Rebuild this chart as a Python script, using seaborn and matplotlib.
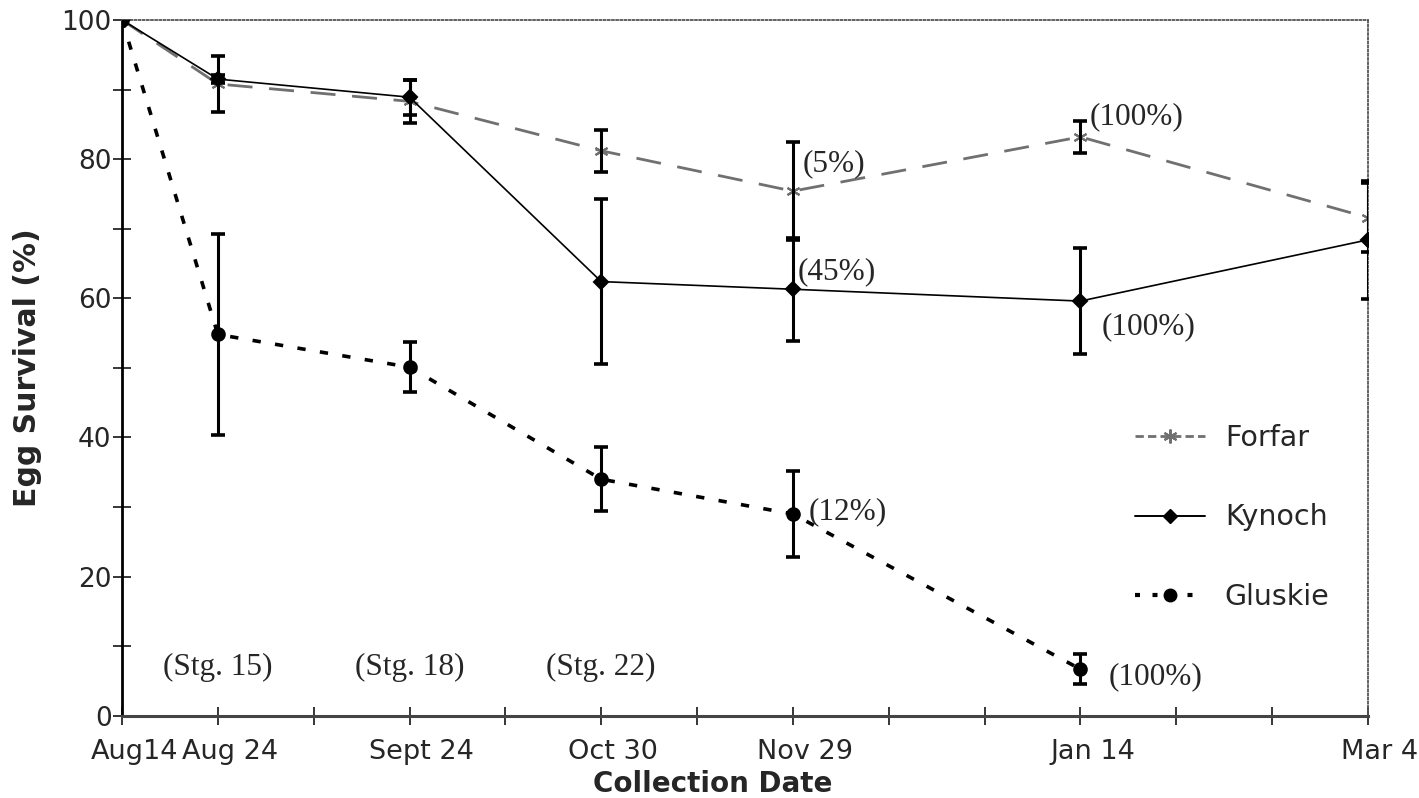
import numpy as np
import pandas as pd
import matplotlib
matplotlib.use("Agg")
import matplotlib.pyplot as plt
import matplotlib.transforms as mtransforms
from matplotlib.lines import Line2D
import seaborn as sns

# Collection dates and their positions on the sampling axis
dates = ["Aug14", "Aug 24", "Sept 24", "Oct 30", "Nov 29", "Jan 14", "Mar 4"]
date_pos = [0, 1, 3, 5, 7, 10, 13]

# Mean egg survival (%) and error (±) per site
forfar = [100, 90.8, 88.3, 81.2, 75.4, 83.2, 71.6]
forfar_err = [0, 4.0, 3.1, 3.0, 7.0, 2.3, 5.0]
kynoch = [100, 91.5, 88.9, 62.4, 61.3, 59.6, 68.4]
kynoch_err = [0, 0.6, 2.5, 11.8, 7.4, 7.6, 8.5]
gluskie = [100, 54.8, 50.1, 34.0, 29.0, 6.7]
gluskie_err = [0, 14.5, 3.6, 4.6, 6.2, 2.2]

# Embryo stage notes and proportion-hatched notes
stage_labels = ["(Stg. 15)", "(Stg. 18)", "(Stg. 22)"]
stage_pos = [1, 3, 5]
pct_notes = [  # (x, y, text)
    (7.1, 79.3, "(5%)"),
    (10.1, 86.1, "(100%)"),
    (7.05, 63.8, "(45%)"),
    (10.22, 55.9, "(100%)"),
    (7.16, 29.3, "(12%)"),
    (10.29, 5.6, "(100%)"),
]

sns.set_theme(style="white")
plt.rcParams["font.family"] = ["DejaVu Sans"]

fig = plt.figure(figsize=(14.19, 7.98), dpi=100)
ax = fig.add_axes([0.086, 0.103, 0.878, 0.872])

FORFAR_C = "#707070"
series = [
    ("Forfar", forfar, forfar_err, FORFAR_C, (0, (9, 6)), (6, 2, 0), 10, 2.0),
    ("Kynoch", kynoch, kynoch_err, "black", "-", "D", 7, 1.2),
    ("Gluskie", gluskie, gluskie_err, "black", (0, (2.3, 4.0)), "o", 9, 2.6),
]

for name, vals, errs, col, ls, mk, ms, lw in series:
    xs = date_pos[:len(vals)]
    sns.lineplot(x=xs, y=vals, color=col, linestyle=ls, marker=mk,
                 markersize=ms, markeredgecolor=col, markeredgewidth=1.5,
                 linewidth=lw, ax=ax, zorder=3, legend=False)
    xs2 = [x for x, e in zip(xs, errs) if e > 0]
    ys2 = [y for y, e in zip(vals, errs) if e > 0]
    es2 = [e for e in errs if e > 0]
    ax.errorbar(xs2, ys2, yerr=es2, fmt="none", ecolor="black",
                elinewidth=2.2, capsize=4.8, capthick=2.6, zorder=4)

ax.set_xlim(0, 13)
ax.set_ylim(0, 100)
ax.set_xticks(range(14))
xt_labels = [""] * 14
for p, d in zip(date_pos, dates):
    xt_labels[p] = d
ax.set_xticklabels(xt_labels, fontsize=19.5)
ax.set_yticks(range(0, 101, 10))
ax.set_yticklabels([str(v) if v % 20 == 0 else "" for v in range(0, 101, 10)],
                   fontsize=19)
ax.tick_params(axis="both", which="major", direction="inout", length=13,
               width=1.1, color="black", bottom=True, left=True)
ax.tick_params(axis="x", pad=10)
ax.tick_params(axis="y", pad=1)
shift = mtransforms.ScaledTranslation(12 / 100, 0, fig.dpi_scale_trans)
for lab in ax.get_xticklabels():
    lab.set_transform(lab.get_transform() + shift)

ax.set_xlabel("Collection Date", fontsize=20, fontweight="bold")
ax.xaxis.set_label_coords(0.474, -0.078)
ax.set_ylabel("Egg Survival (%)", fontsize=21.5, fontweight="bold")
ax.yaxis.set_label_coords(-0.064, 0.5)

for side in ["top", "right"]:
    ax.spines[side].set_linestyle((0, (1, 1.3)))
    ax.spines[side].set_color("#555555")
    ax.spines[side].set_linewidth(1.3)
ax.spines["left"].set_color("black")
ax.spines["left"].set_linewidth(2.0)
ax.spines["bottom"].set_color("#444444")
ax.spines["bottom"].set_linewidth(2.2)

serif = ["Liberation Serif", "DejaVu Serif"]
for p, t in zip(stage_pos, stage_labels):
    ax.text(p, 6.9, t, ha="center", va="center", fontsize=22.5, family=serif)
for x, y, t in pct_notes:
    ax.text(x, y, t, ha="left", va="center", fontsize=22.5, family=serif)

handles = [
    Line2D([], [], color=FORFAR_C, linestyle=(0, (3, 1.5)), linewidth=2.0,
           marker=(6, 2, 0), markersize=10, markeredgewidth=1.5,
           markeredgecolor=FORFAR_C),
    Line2D([], [], color="black", linestyle="-", linewidth=1.4, marker="D",
           markersize=7),
    Line2D([], [], color="black", linestyle=(0, (1.2, 3.0)), linewidth=3.0,
           marker="o", markersize=9),
]
ax.legend(handles, ["Forfar", "Kynoch", "Gluskie"], loc="center left",
          bbox_to_anchor=(0.804, 0.285), frameon=False, fontsize=20.5,
          handlelength=2.45, labelspacing=1.8, handletextpad=0.7,
          borderaxespad=0)

fig.savefig("out.png", dpi=100)
